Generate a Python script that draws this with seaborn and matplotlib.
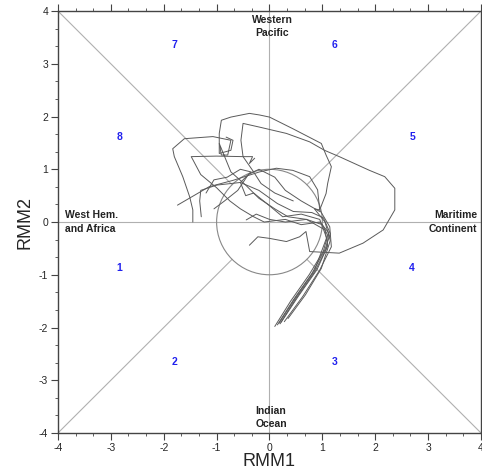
import numpy as np
import pandas as pd
import seaborn as sns
import matplotlib.pyplot as plt
from matplotlib.patches import Circle
from matplotlib.ticker import MultipleLocator

# RMM trajectories (RMM1, RMM2)
t1_x = [0.28, 0.63, 0.95, 1.17, 1.14, 0.95, 0.91, 0.76, 0.44, 0.13, -0.19, -0.69, -1.14, -1.74]
t1_y = [-1.89, -1.41, -0.91, -0.47, -0.09, 0.23, 0.61, 0.86, 0.98, 1.02, 0.95, 0.79, 0.67, 0.32]

t2_x = [0.10, 0.40, 0.75, 1.02, 1.10, 1.00, 0.70, 0.35, 0.10, -0.20, -0.45, -0.73, -0.95, -0.91,
        -0.79, -0.73, -1.07, -1.61, -1.83, -1.80, -1.64, -1.51, -1.45, -1.45]
t2_y = [-1.98, -1.50, -1.00, -0.55, -0.25, -0.05, 0.05, 0.10, 0.25, 0.45, 0.70, 0.95, 1.49, 1.27,
        1.27, 1.55, 1.62, 1.58, 1.39, 1.24, 0.86, 0.48, 0.23, 0.00]

t3_x = [0.20, 0.50, 0.85, 1.08, 1.12, 0.95, 0.60, 0.30, -0.10, -0.30, -0.55, -0.75, -1.00, -1.30,
        -1.48, -1.00, -0.50, -0.32, -0.38, -0.28]
t3_y = [-1.93, -1.45, -0.95, -0.50, -0.20, 0.00, -0.05, 0.05, 0.00, 0.10, 0.25, 0.40, 0.65, 0.90,
        1.24, 1.25, 1.24, 1.24, 1.11, 1.21]

t4_x = [0.15, 0.45, 0.80, 1.05, 1.15, 1.02, 0.80, 0.45, 0.15, -0.20, -0.55, -1.00, -1.30, -1.32, -1.29]
t4_y = [-1.95, -1.48, -0.98, -0.52, -0.22, 0.08, 0.18, 0.20, 0.35, 0.60, 0.75, 0.70, 0.60, 0.40, 0.10]

t5_x = [0.35, 0.68, 0.98, 1.15, 1.05, 0.85, 0.95, 1.07, 1.10, 1.17, 1.07, 0.98, 0.44, 0.00, -0.19,
        -0.38, -0.73, -0.91, -0.95, -0.95, -0.73, -0.69, -0.82]
t5_y = [-1.83, -1.38, -0.88, -0.35, 0.00, 0.25, 0.23, 0.54, 0.73, 1.05, 1.27, 1.49, 1.77, 1.99, 2.03,
        2.06, 1.99, 1.93, 1.68, 1.30, 1.36, 1.55, 1.61]

t6_x = [-0.38, -0.22, 0.00, 0.32, 0.57, 0.69, 0.76, 1.32, 1.77, 2.15, 2.37, 2.37, 2.37, 2.18, 1.89,
        1.32, 1.04, 0.76, 0.32, -0.19, -0.50, -0.54, -0.50, -0.32, -0.16, 0.10, 0.45]
t6_y = [-0.44, -0.28, -0.31, -0.37, -0.28, -0.18, -0.56, -0.59, -0.40, -0.15, 0.23, 0.48, 0.64, 0.86,
        0.98, 1.24, 1.36, 1.52, 1.68, 1.80, 1.87, 1.55, 1.24, 0.98, 0.73, 0.55, 0.40]

t7_x = [0.22, 0.55, 0.90, 1.10, 1.05, 0.70, 0.30, 0.00, -0.25, -0.44]
t7_y = [-1.90, -1.40, -0.90, -0.45, -0.15, 0.05, 0.00, 0.05, 0.15, 0.04]

t8_x = [0.18, 0.50, 0.85, 1.08, 0.95, 0.60, 0.25, -0.05, -0.30, -0.45, -0.55, -0.35, -0.55, -0.80,
        -1.05, -1.20]
t8_y = [-1.92, -1.42, -0.92, -0.30, 0.05, 0.15, 0.10, 0.35, 0.55, 0.50, 0.75, 0.95, 1.00, 0.85,
        0.80, 0.55]

t9_x = [0.95, 0.60, 0.30, 0.10, -0.20, -0.40, -0.60, -0.85, -1.05]
t9_y = [0.20, 0.40, 0.60, 0.85, 1.00, 0.90, 0.60, 0.40, 0.25]

tracks = [(t1_x, t1_y), (t2_x, t2_y), (t3_x, t3_y), (t4_x, t4_y), (t5_x, t5_y),
          (t6_x, t6_y), (t7_x, t7_y), (t8_x, t8_y), (t9_x, t9_y)]

phases = ["1", "2", "3", "4", "5", "6", "7", "8"]
phase_x = [-2.84, -1.80, 1.23, 2.70, 2.70, 1.23, -1.80, -2.84]
phase_y = [-0.87, -2.65, -2.65, -0.87, 1.61, 3.36, 3.36, 1.61]

frames = []
for i, (xs, ys) in enumerate(tracks):
    frames.append(pd.DataFrame({"RMM1": xs, "RMM2": ys, "member": i}))
df = pd.concat(frames, ignore_index=True)

sns.set_theme(style="white")
plt.rcParams["font.family"] = ["Liberation Sans", "DejaVu Sans"]
plt.rcParams["axes.unicode_minus"] = False

fig = plt.figure(figsize=(4.82, 4.73), dpi=100)
ax = fig.add_axes([0.1203, 0.0846, 0.8776, 0.892])

guide = "#b0b0b0"
ax.axhline(0, color=guide, lw=0.8, zorder=1)
ax.axvline(0, color=guide, lw=0.8, zorder=1)
r = np.sqrt(0.5)
for sx in (-1, 1):
    for sy in (-1, 1):
        ax.plot([sx * 4, sx * r], [sy * 4, sy * r], color=guide, lw=0.8, zorder=1)
ax.add_patch(Circle((0, 0), 1, fill=False, ec="#888888", lw=0.8, zorder=1))

sns.lineplot(data=df, x="RMM1", y="RMM2", units="member", estimator=None, sort=False,
             color="#5a5a5a", lw=0.7, ax=ax, zorder=2)

for lab, px, py in zip(phases, phase_x, phase_y):
    ax.text(px, py, lab, color="#2020ee", fontsize=7.5, fontweight="bold",
            ha="center", va="center")

kw = dict(fontsize=7.5, fontweight="bold", color="#222222", linespacing=1.45)
ax.text(0.05, 3.93, "Western\nPacific", ha="center", va="top", **kw)
ax.text(0.03, -3.93, "Indian\nOcean", ha="center", va="bottom", **kw)
ax.text(-3.87, 0.0, "West Hem.\nand Africa", ha="left", va="center", **kw)
ax.text(3.93, 0.0, "Maritime\nContinent", ha="right", va="center", **kw)

ax.set_xlim(-4, 4)
ax.set_ylim(-4, 4)
ax.xaxis.set_major_locator(MultipleLocator(1))
ax.yaxis.set_major_locator(MultipleLocator(1))
ax.xaxis.set_minor_locator(MultipleLocator(1 / 3))
ax.yaxis.set_minor_locator(MultipleLocator(1 / 3))
ax.tick_params(which="both", direction="out", top=True, right=True, bottom=True, left=True,
               color="#444444", labelsize=7.5, pad=2)
ax.tick_params(which="major", length=5, width=0.8)
ax.tick_params(which="minor", length=2.5, width=0.6)
for s in ax.spines.values():
    s.set_color("#444444")
    s.set_linewidth(1.0)

ax.set_xlabel("RMM1", fontsize=13, labelpad=0)
ax.set_ylabel("RMM2", fontsize=13, labelpad=4)

fig.savefig("out.png", dpi=100)
